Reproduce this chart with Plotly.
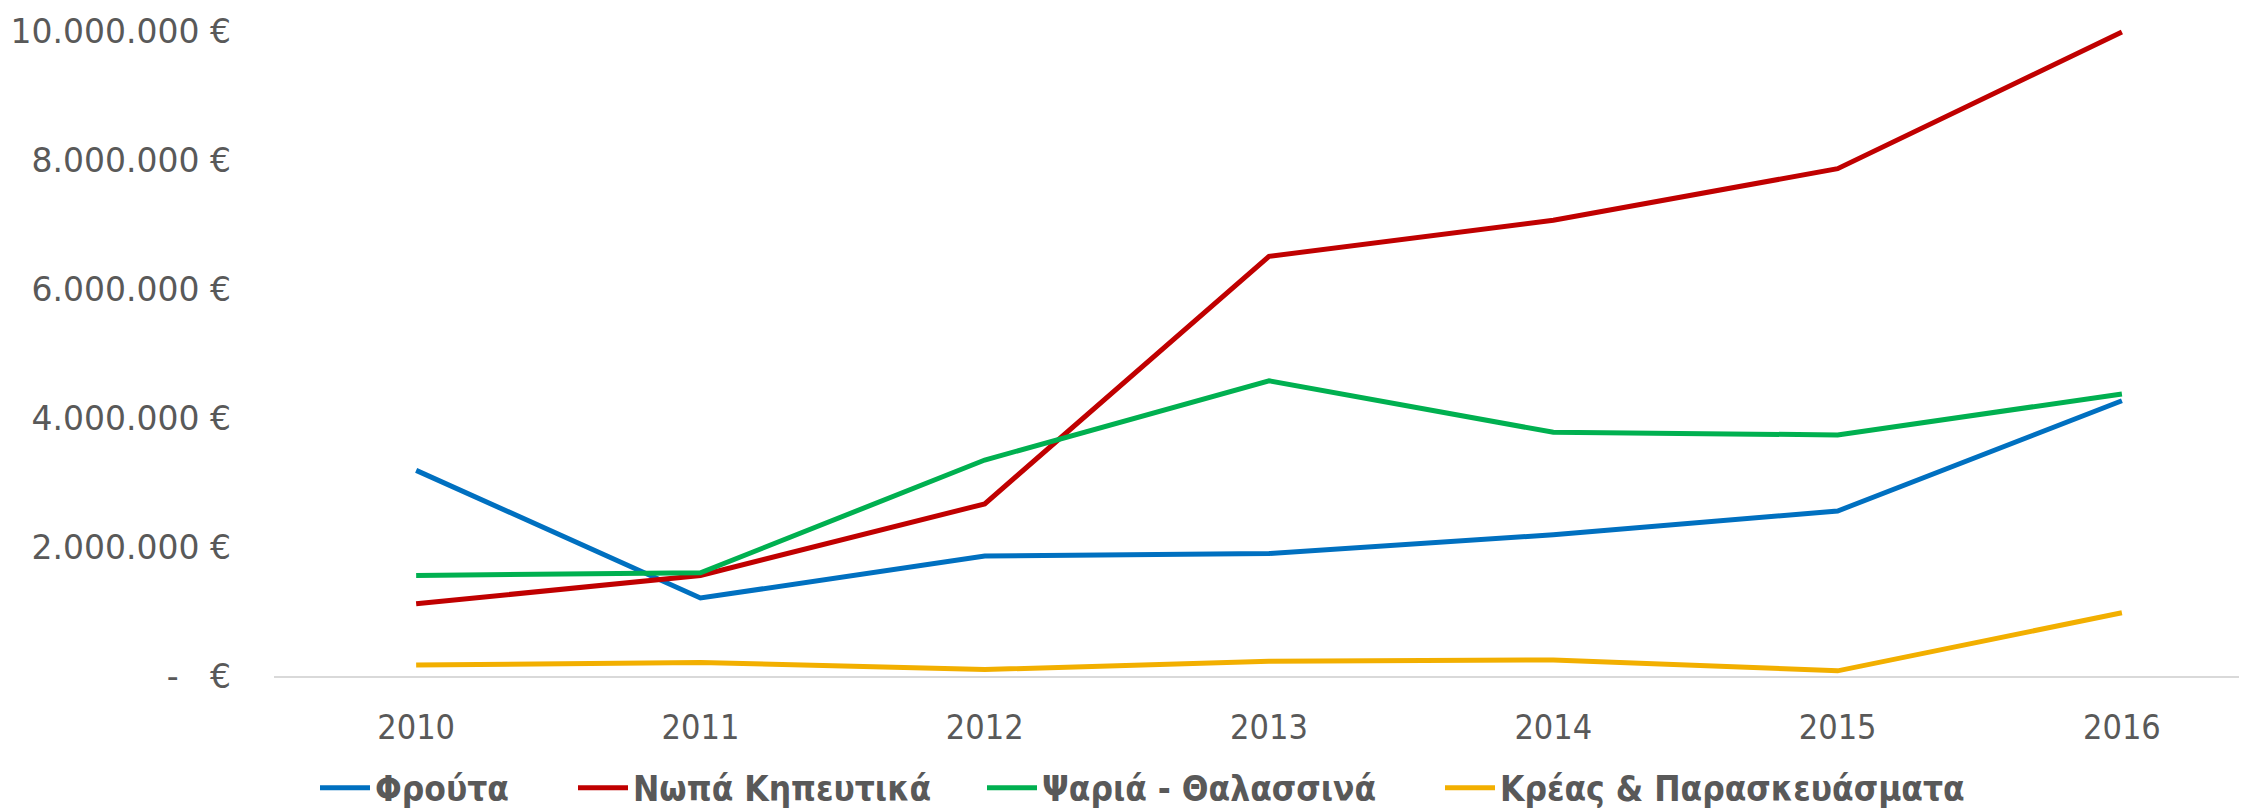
import plotly.graph_objects as go

years = ["2010", "2011", "2012", "2013", "2014", "2015", "2016"]

frouta = [3190000, 1210000, 1860000, 1900000, 2190000, 2560000, 4270000]
nopa_kipeftika = [1120000, 1560000, 2670000, 6510000, 7070000, 7870000, 9990000]
psaria_thalassina = [1560000, 1600000, 3350000, 4580000, 3780000, 3740000, 4375000]
kreas_paraskevasmata = [170000, 210000, 100000, 230000, 250000, 80000, 980000]

series_names = ["Φρούτα", "Νωπά Κηπευτικά", "Ψαριά - Θαλασσινά", "Κρέας & Παρασκευάσματα"]
series_values = [frouta, nopa_kipeftika, psaria_thalassina, kreas_paraskevasmata]
series_colors = ["#0070C0", "#C00000", "#00B050", "#F2AF00"]
legend_ids = ["legend", "legend2", "legend3", "legend4"]
legend_x = [307, 565, 974, 1432]

y_tick_vals = [0, 2000000, 4000000, 6000000, 8000000, 10000000]
y_tick_text = ["-   €", "2.000.000 €", "4.000.000 €", "6.000.000 €", "8.000.000 €", "10.000.000 €"]

cond_font = "Liberation Sans Narrow, Arial Narrow, DejaVu Sans Condensed"

# page body adds an 8px margin, so the figure is 8px smaller than the window
W, H = 2239, 801

fig = go.Figure()
for name, vals, col, lid in zip(series_names, series_values, series_colors, legend_ids):
    fig.add_trace(go.Scatter(
        x=years, y=vals, name=name, mode="lines",
        line=dict(color=col, width=5), legend=lid,
    ))

legend_common = dict(
    orientation="h", xref="container", yref="container",
    xanchor="left", y=(H - 780) / H, yanchor="middle",
    font=dict(family=cond_font, size=35, color="#595959", weight="bold"),
    itemwidth=50, bgcolor="rgba(0,0,0,0)",
)

layout_legends = {}
for lid, lx in zip(legend_ids, legend_x):
    layout_legends[lid] = dict(legend_common, x=lx / W)

fig.update_layout(
    template="none",
    width=W, height=H,
    margin=dict(l=266, r=0, t=4, b=133, autoexpand=False),
    paper_bgcolor="white", plot_bgcolor="white",
    showlegend=True,
    xaxis=dict(
        type="category", range=[-0.5, 6.44],
        showgrid=False, zeroline=False,
        showline=True, linecolor="#D9D9D9", linewidth=2,
        ticks="", ticklabelstandoff=20, automargin=False,
        tickfont=dict(family=cond_font, size=34, color="#595959"),
    ),
    yaxis=dict(
        range=[0, 10300000],
        tickvals=y_tick_vals, ticktext=y_tick_text,
        showgrid=False, zeroline=False, showline=False,
        ticks="", ticklabelstandoff=42, automargin=False,
        tickfont=dict(family="DejaVu Sans", size=33, color="#595959"),
    ),
    **layout_legends,
)

fig.write_html("out.html")
